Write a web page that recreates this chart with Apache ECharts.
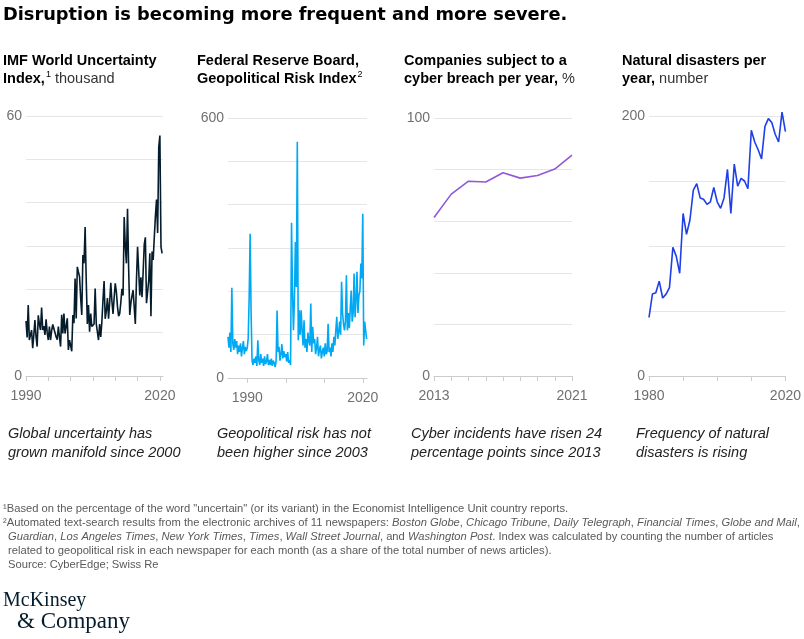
<!DOCTYPE html>
<html>
<head>
<meta charset="utf-8">
<script src="https://cdn.jsdelivr.net/npm/echarts@6/dist/echarts.min.js"></script>
<style>
html, body { margin: 0; padding: 0; background: #fff; }
#chart { width: 804px; height: 639px; }
</style>
</head>
<body>
<div id="chart"></div>
<script>
// IMF World Uncertainty Index, thousand (quarterly from 1990 Q1)
var wuiStart = 1990;
var wuiValues = [
  12.7, 8.9, 16.4, 8.3,   9.5, 10.6, 6.4, 9.5,    12.9, 9.0, 6.8, 14.0,
  12.0, 10.6, 15.8, 10.6, 11.5, 9.5, 13.1, 10.0,  8.3, 11.4, 8.3, 10.5,
  11.9, 11.7, 10.0, 9.0,  8.4, 11.4, 9.0, 6.8,    14.1, 9.8, 14.4, 9.8,
  11.5, 13.3, 6.0, 8.3,   7.0, 5.7, 14.1, 12.2,   22.5, 13.3, 25.2, 24.0,
  22.9, 18.0, 14.1, 27.9, 26.0, 34.4, 22.0, 12.0, 16.4, 10.2, 14.4, 11.4,
  11.7, 12.0, 20.2, 12.0, 11.7, 8.3, 12.0, 9.0,   12.5, 17.5, 21.9, 13.2,
  15.0, 18.0, 13.2, 17.0, 21.5, 17.3, 14.3, 18.0, 21.4, 19.4, 16.0, 13.8,
  14.4, 17.0, 20.1, 18.6, 36.7, 30.0, 26.0, 38.6, 25.0, 14.1, 16.8, 18.5,
  19.8, 20.2, 12.0, 22.0, 29.8, 24.4, 18.6, 22.8, 18.2, 24.0, 30.4, 32.0,
  16.8, 16.4, 22.0, 28.3, 13.8, 28.7, 26.8, 32.0, 36.9, 40.7, 33.0, 52.8,
  55.5, 29.8, 28.3
];

// Geopolitical Risk Index (quarterly from 1985 Q1)
var gprStart = 1985;
var gprValues = [
  95, 70, 105, 60,   208, 80, 65, 90,   70, 85, 55, 75,    60, 80, 50, 70,
  85, 55, 72, 62,    70, 92, 187, 333,  150, 40, 30, 45,   35, 50, 28, 87,
  40, 30, 55, 35,    45, 28, 50, 32,    38, 55, 30, 42,    30, 45, 28, 40,
  35, 25, 40, 156,   60, 72, 40, 55,    78, 45, 62, 48,    55, 38, 60, 35,
  42, 30, 358, 200,  110, 180, 314, 210, 545, 87, 156, 100, 156, 110, 75, 133,
  70, 90, 60, 105,   85, 75, 172, 60,   118, 80, 90, 55,   70, 95, 50, 65,
  75, 45, 60, 70,    50, 80, 55, 62,    125, 60, 70, 50,   80, 60, 95, 75,
  110, 141, 90, 105, 130, 100, 222, 150, 125, 110, 130, 237, 110, 150, 115, 160,
  202, 130, 150, 241, 140, 180, 245, 150, 190, 200, 264, 230, 379, 75, 130, 110,
  90
];

// Companies subject to a cyber breach per year, %
var cyberYears = [2013, 2014, 2015, 2016, 2017, 2018, 2019, 2020, 2021];
var cyberValues = [61.4, 70.5, 75.5, 75.2, 78.8, 76.7, 77.7, 80.2, 85.6];

// Natural disasters per year, number (1980-2020)
var disasterStart = 1980;
var disasterValues = [
  45, 63, 64, 73, 60, 63, 68, 99, 92, 79,
  125, 109, 120, 143, 148, 137, 136, 132, 134, 145,
  134, 129, 137, 159, 125, 163, 146, 152, 150, 144,
  189, 180, 174, 167, 192, 198, 195, 186, 180, 203,
  188
];

var chart = echarts.init(document.getElementById('chart'), null, { renderer: 'canvas' });

var sans = '"Liberation Sans", Arial, sans-serif';
var serif = '"Liberation Serif", "Times New Roman", serif';
var gridColor = '#e6e6e6';
var axisColor = '#cccccc';
var labelColor = '#707070';

function series(start, step, values) {
  return values.map(function (v, i) { return [start + i * step, v]; });
}
function pairs(xs, ys) {
  return xs.map(function (x, i) { return [x, ys[i]]; });
}

function xAxis(idx, min, max, ticks, labels) {
  return {
    type: 'value', gridIndex: idx, min: min, max: max,
    axisLine: { show: true, lineStyle: { color: axisColor, width: 1 } },
    axisTick: { show: true, length: 5, lineStyle: { color: axisColor }, customValues: ticks },
    axisLabel: { customValues: labels, color: labelColor, fontSize: 14, fontFamily: sans, margin: 13,
      formatter: function (v) { return String(v); } },
    splitLine: { show: false }
  };
}
function yAxis(idx, max, interval) {
  return {
    type: 'value', gridIndex: idx, min: 0, max: max, interval: interval,
    axisLine: { show: false }, axisTick: { show: false },
    axisLabel: { color: labelColor, fontSize: 14, fontFamily: sans, margin: 4,
      formatter: function (v) { return (v === 0 || v === max) ? String(v) : ''; } },
    splitLine: { show: true, lineStyle: { color: gridColor, width: 1 } }
  };
}
function line(idx, data, color) {
  return {
    type: 'line', xAxisIndex: idx, yAxisIndex: idx, data: data,
    showSymbol: false, clip: false, animation: false,
    lineStyle: { color: color, width: 1.6 }
  };
}

function rich(str) {
  // _italic_ pieces become {i|...}, the rest {n|...}
  return str.split('_').map(function (s, i) {
    if (!s) return '';
    return (i % 2 ? '{i|' : '{n|') + s + '}';
  }).join('');
}

var titleRich = {
  b: { fontFamily: sans, fontWeight: 'bold', fontSize: 14.5, fill: '#000', lineHeight: 18 },
  n: { fontFamily: sans, fontWeight: 'normal', fontSize: 14.5, fill: '#333', lineHeight: 18 },
  s: { fontFamily: sans, fontWeight: 'normal', fontSize: 9, fill: '#000', lineHeight: 18, verticalAlign: 'top', padding: [1, 0, 0, 1] }
};
function panelTitle(x, txt) {
  return { type: 'text', left: x, top: 53, style: { text: txt, rich: titleRich, fill: '#000' } };
}
function note(x, txt) {
  return { type: 'text', left: x, top: 424, style: {
    text: txt, font: 'italic 14.5px ' + sans, fill: '#222', lineHeight: 19 } };
}

var footRich = {
  n: { font: 'normal 11.2px ' + sans, fill: '#595959', lineHeight: 14 },
  i: { font: 'italic 11.2px ' + sans, fill: '#595959', lineHeight: 14 }
};
var footLines = [
  '¹Based on the percentage of the word "uncertain" (or its variant) in the Economist Intelligence Unit country reports.',
  '²Automated text-search results from the electronic archives of 11 newspapers: _Boston Globe_, _Chicago Tribune_, _Daily Telegraph_, _Financial Times_, _Globe and Mail_,',
  '_Guardian_, _Los Angeles Times_, _New York Times_, _Times_, _Wall Street Journal_, and _Washington Post_. Index was calculated by counting the number of articles',
  'related to geopolitical risk in each newspaper for each month (as a share of the total number of news articles).',
  'Source: CyberEdge; Swiss Re'
];
var footGraphics = footLines.map(function (t, i) {
  return { type: 'text', left: i < 2 ? 3 : 8, top: 503 + i * 14, style: { text: rich(t), rich: footRich } };
});

var option = {
  backgroundColor: '#fff',
  animation: false,
  grid: [
    { left: 26, top: 116, width: 137, height: 260 },
    { left: 228, top: 118, width: 139, height: 260 },
    { left: 434, top: 118, width: 138, height: 258 },
    { left: 649, top: 116, width: 138, height: 260 }
  ],
  xAxis: [
    xAxis(0, 1990, 2020.7, [1990, 1995, 2000, 2005, 2010, 2015, 2020], [1990, 2020]),
    xAxis(1, 1985, 2021.1, [1990, 2000, 2010, 2020], [1990, 2020]),
    xAxis(2, 2013, 2021, cyberYears, [2013, 2021]),
    xAxis(3, 1980, 2020, [1980, 1990, 2000, 2010, 2020], [1980, 2020])
  ],
  yAxis: [
    yAxis(0, 60, 10),
    yAxis(1, 600, 100),
    yAxis(2, 100, 20),
    yAxis(3, 200, 50)
  ],
  series: [
    line(0, series(wuiStart, 0.25, wuiValues), '#051C2C'),
    line(1, series(gprStart, 0.25, gprValues), '#00A9F4'),
    line(2, pairs(cyberYears, cyberValues), '#9158D8'),
    line(3, series(disasterStart, 1, disasterValues), '#1F40E6')
  ],
  graphic: [
    { type: 'text', left: 3, top: 6, style: {
      text: 'Disruption is becoming more frequent and more severe.',
      font: 'bold 17.8px "DejaVu Sans", ' + sans, fill: '#000' } },
    panelTitle(3, '{b|IMF World Uncertainty}\n{b|Index,}{s|1}{n| thousand}'),
    panelTitle(197, '{b|Federal Reserve Board,}\n{b|Geopolitical Risk Index}{s|2}'),
    panelTitle(404, '{b|Companies subject to a}\n{b|cyber breach per year,}{n| %}'),
    panelTitle(622, '{b|Natural disasters per}\n{b|year,}{n| number}'),
    note(8, 'Global uncertainty has\ngrown manifold since 2000'),
    note(217, 'Geopolitical risk has not\nbeen higher since 2003'),
    note(411, 'Cyber incidents have risen 24\npercentage points since 2013'),
    note(636, 'Frequency of natural\ndisasters is rising'),
    { type: 'text', left: 3, top: 591, style: { text: 'McKinsey', font: '20px ' + serif, fill: '#051C2C' } },
    { type: 'text', left: 17, top: 610, style: { text: '& Company', font: '23px ' + serif, fill: '#051C2C' } }
  ].concat(footGraphics)
};

chart.setOption(option);
</script>
</body>
</html>
